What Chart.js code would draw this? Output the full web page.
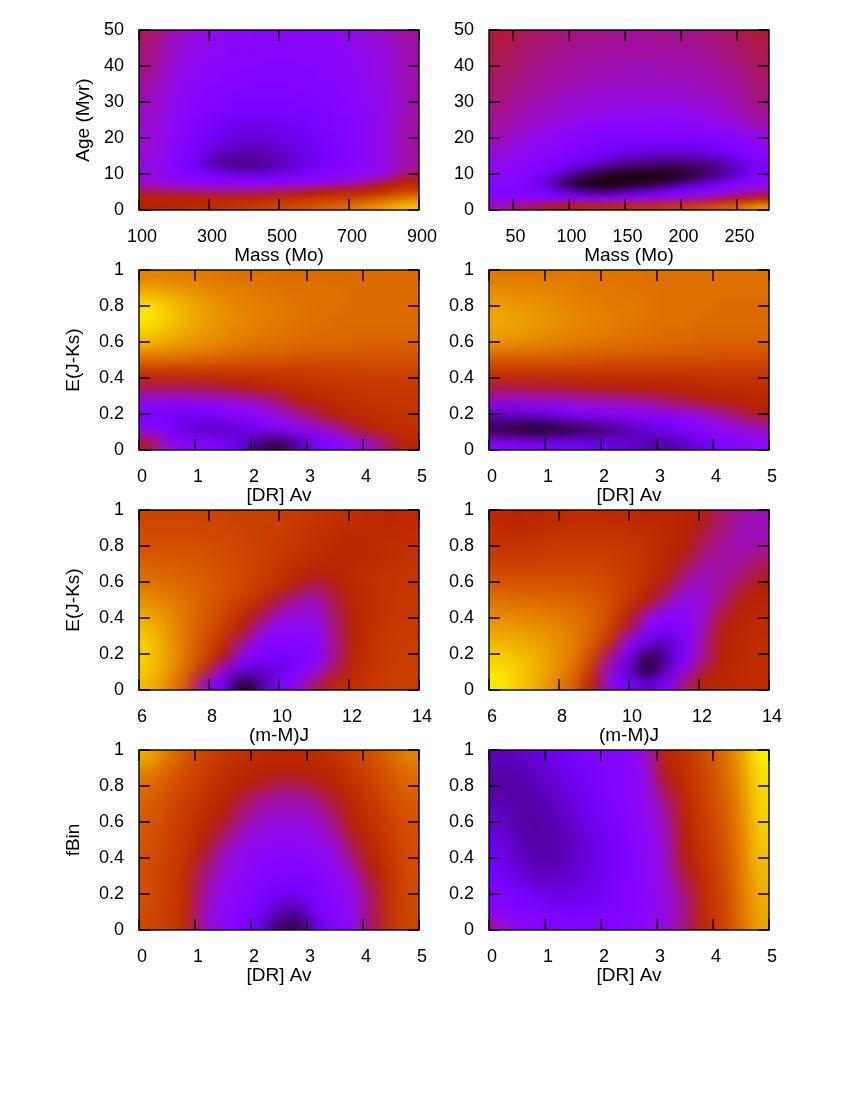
<!DOCTYPE html>
<html>
<head>
<meta charset="utf-8">
<title>Fit maps</title>
<script src="https://cdn.jsdelivr.net/npm/chart.js@4"></script>
<style>
  html, body { margin: 0; background: #fff; }
  #page { position: relative; width: 850px; height: 1100px; overflow: hidden; }
  canvas { position: absolute; }
</style>
</head>
<body>
<div id="page"></div>
<script>
// Map values in percent of the colour range, first row is the top of the plot
const massAgeLeft = [
  [44,38,34,31,29,28,28,28,29,31,33,36,39],
  [43,37,33,31,29,28,27,28,29,30,33,35,39],
  [42,36,32,30,28,27,27,27,28,30,32,35,38],
  [42,36,32,30,28,27,27,27,28,29,32,34,38],
  [41,35,31,29,28,27,26,27,27,29,31,34,38],
  [41,34,30,28,27,26,26,26,27,29,31,34,38],
  [40,34,30,28,26,26,25,26,27,28,31,34,38],
  [39,33,29,27,26,25,25,25,26,28,30,33,38],
  [38,33,29,26,25,24,24,25,26,28,30,33,38],
  [37,32,28,26,24,24,24,24,25,27,30,33,38],
  [37,32,28,25,23,23,23,24,25,27,30,33,38],
  [36,31,27,24,22,22,22,23,24,27,29,33,38],
  [36,31,26,22,20,20,21,22,24,26,29,33,39],
  [35,30,25,21,18,18,19,21,24,26,29,33,39],
  [35,30,25,20,17,17,18,20,23,26,29,33,39],
  [35,29,24,19,16,15,16,19,22,26,29,33,39],
  [35,29,23,17,13,13,15,18,22,25,29,33,39],
  [34,28,22,14,11,11,13,17,21,25,29,33,39],
  [33,28,20,12,9,10,13,17,21,25,29,33,39],
  [32,28,23,17,13,13,15,19,24,27,30,34,41],
  [33,29,27,24,22,22,23,25,27,29,32,38,47],
  [36,34,32,31,31,31,32,33,36,39,44,50,55],
  [46,44,43,42,42,43,45,47,50,53,55,59,66],
  [52,52,52,53,54,55,57,59,61,64,68,74,80],
  [50,52,54,56,59,61,64,67,71,75,80,86,91],
];
const massAgeRight = [
  [47,45,43,42,41,41,40,40,41,41,42,44,47],
  [46,44,43,42,41,40,40,40,40,41,42,44,46],
  [46,44,42,41,40,40,39,39,40,40,41,43,45],
  [45,43,42,40,39,39,39,39,39,39,41,43,45],
  [45,43,41,40,39,38,38,38,38,39,40,42,44],
  [44,42,40,39,38,38,37,37,38,38,39,41,44],
  [44,42,40,39,38,37,37,37,37,37,39,41,43],
  [43,41,39,38,37,36,36,36,36,37,38,40,43],
  [43,41,39,37,36,35,35,35,35,36,37,39,42],
  [42,40,38,36,35,34,34,34,34,35,36,39,42],
  [42,39,37,35,34,33,33,33,33,34,35,38,41],
  [41,38,36,34,33,32,31,31,31,32,34,37,40],
  [40,37,35,33,31,30,30,29,29,30,32,35,39],
  [39,36,34,31,29,28,27,27,27,28,30,33,37],
  [38,35,31,29,27,26,25,25,25,26,27,29,33],
  [37,33,30,28,26,24,24,23,23,23,24,27,31],
  [35,31,29,27,24,22,20,19,19,19,20,24,29],
  [33,30,28,25,22,18,15,14,13,14,16,21,27],
  [32,29,26,22,17,12,9,8,7,8,10,16,25],
  [30,28,24,17,10,6,4,3,3,5,8,14,24],
  [29,27,20,10,4,1,1,1,2,5,10,18,27],
  [28,26,18,7,2,1,2,4,9,15,21,27,30],
  [26,26,24,16,10,9,13,18,22,26,29,33,39],
  [29,29,29,29,29,29,31,33,36,39,43,48,54],
  [38,43,47,50,52,54,56,58,61,64,68,74,84],
];
const avReddenLeft = [
  [80,80,79,78,77,76,76,75,75,75,75,75,75,75,75],
  [87,86,84,82,80,79,78,77,76,76,76,75,75,75,75],
  [95,92,88,85,82,80,79,78,77,76,76,75,75,75,75],
  [97,93,89,86,83,81,79,78,77,76,75,75,75,75,75],
  [93,90,87,84,82,80,78,77,76,75,75,74,74,74,74],
  [87,85,83,81,79,77,76,75,74,73,73,73,72,72,72],
  [74,74,73,72,71,70,69,69,68,68,68,68,68,68,68],
  [58,58,58,58,58,59,59,60,60,61,62,62,63,63,63],
  [45,45,45,46,47,49,52,54,56,57,58,59,60,60,60],
  [31,30,30,31,32,34,37,43,49,53,55,57,58,59,59],
  [24,22,21,23,26,28,30,33,39,45,50,54,56,57,58],
  [28,24,17,14,13,17,22,27,30,33,38,46,52,55,57],
  [46,34,29,27,24,16,7,5,12,22,28,31,36,46,53],
];
const avReddenRight = [
  [78,78,78,78,78,77,77,77,76,76,76,76,76,76,76],
  [82,81,81,80,79,78,78,77,77,76,76,76,76,76,76],
  [85,84,83,82,80,79,78,78,77,76,76,76,75,75,75],
  [87,86,84,83,81,80,79,78,77,76,76,75,75,75,75],
  [86,85,83,82,80,79,78,77,76,75,75,74,74,74,74],
  [81,80,79,78,77,76,75,75,74,73,73,72,72,72,72],
  [70,70,70,70,69,69,68,68,68,67,67,67,66,66,66],
  [58,58,58,58,58,58,58,58,58,58,59,59,60,60,60],
  [46,46,47,47,48,49,50,50,51,52,53,54,55,55,56],
  [33,33,34,34,35,36,37,38,40,43,46,48,50,52,53],
  [14,15,17,20,24,25,26,27,28,29,30,33,38,44,48],
  [4,2,1,2,4,6,8,12,16,20,25,28,31,33,36],
  [28,26,25,23,21,19,17,15,12,11,14,20,25,28,30],
];
const modulusReddenLeft = [
  [64,64,64,64,64,63,63,62,61,59,57,56,55,54,55],
  [66,66,66,65,65,64,63,62,60,58,56,55,55,55,56],
  [68,68,68,67,66,65,63,61,59,57,55,54,55,56,57],
  [71,71,70,69,67,65,63,60,57,55,54,54,55,56,58],
  [74,73,72,71,68,66,62,58,54,52,53,55,57,58,59],
  [78,76,74,72,69,65,61,56,49,44,49,54,57,58,59],
  [82,79,76,72,67,62,56,46,39,38,46,53,57,59,60],
  [86,82,77,71,65,57,47,37,35,34,44,52,57,59,60],
  [90,84,77,70,62,51,38,30,30,30,42,52,57,60,61],
  [92,85,77,68,57,42,29,27,27,28,41,52,58,61,62],
  [93,86,77,65,50,31,25,22,24,27,41,53,58,61,62],
  [92,85,75,58,34,19,15,18,25,31,44,54,59,62,62],
  [90,82,69,36,22,3,10,23,31,44,54,57,60,62,62],
];
const modulusReddenRight = [
  [54,53,54,55,56,56,55,55,54,54,52,49,43,39,37],
  [56,55,56,57,58,58,58,57,56,54,51,47,42,38,37],
  [58,58,59,60,60,60,60,59,57,54,50,44,40,37,38],
  [62,62,62,63,63,63,62,60,57,53,48,41,39,39,43],
  [66,66,66,66,66,66,64,61,57,52,43,38,39,42,46],
  [71,70,70,70,70,68,66,61,55,47,38,36,40,45,50],
  [76,75,75,74,73,71,67,60,50,40,32,35,42,49,52],
  [81,80,79,78,76,73,66,53,38,29,29,35,46,52,54],
  [85,84,83,81,78,73,63,46,29,25,27,37,49,53,55],
  [89,88,86,83,79,72,56,31,20,13,25,40,51,54,56],
  [93,91,88,84,78,66,42,24,5,11,26,40,51,54,56],
  [96,93,89,84,75,60,33,14,2,14,29,46,52,55,56],
  [97,93,88,81,72,52,31,22,15,25,42,52,54,55,56],
];
const avBinaryLeft = [
  [87,78,70,64,60,57,55,54,54,55,58,63,68,74,80],
  [80,73,67,62,57,54,52,51,51,52,55,60,66,71,76],
  [76,70,65,60,55,51,48,45,45,48,52,57,63,69,74],
  [73,68,63,58,53,47,41,39,39,42,48,55,61,67,71],
  [71,66,61,56,50,43,38,36,36,38,45,53,59,65,70],
  [70,65,60,54,47,39,34,33,33,35,41,51,57,63,68],
  [69,64,59,51,42,35,31,30,30,32,37,47,55,62,68],
  [68,63,58,47,37,32,29,28,28,30,33,44,53,60,67],
  [67,63,57,44,34,31,27,26,26,28,31,39,50,59,67],
  [67,62,56,41,32,29,26,24,23,26,30,35,47,58,66],
  [67,62,56,39,31,28,24,20,19,24,29,33,44,58,66],
  [66,62,55,37,30,27,22,14,12,21,28,32,44,58,66],
  [66,62,55,36,29,26,18,7,6,18,27,32,44,58,66],
];
const avBinaryRight = [
  [13,14,16,19,22,24,26,28,36,53,58,66,74,85,98],
  [12,12,14,17,20,23,26,28,34,50,57,65,73,84,96],
  [11,11,13,15,19,22,25,28,33,47,56,64,72,83,95],
  [12,11,12,14,17,21,25,28,32,43,54,63,71,82,94],
  [14,12,11,13,16,20,24,27,31,40,53,62,70,81,94],
  [15,12,11,12,15,19,23,27,31,38,51,61,69,80,93],
  [17,13,11,12,14,17,21,26,30,36,50,60,68,79,92],
  [19,14,12,12,14,17,21,26,30,35,50,59,67,79,91],
  [21,16,13,13,15,17,21,26,30,35,48,57,66,78,90],
  [23,19,15,15,16,18,22,26,30,34,45,56,65,78,89],
  [25,23,20,18,18,20,23,26,29,34,42,56,64,77,88],
  [27,25,24,22,21,22,24,26,29,33,41,55,63,77,87],
  [37,29,27,26,25,25,26,27,30,34,42,54,63,76,86],
];

// Axis ticks
const massTicksLeft = [100, 300, 500, 700, 900];
const massTicksRight = [50, 100, 150, 200, 250];
const ageTicks = [0, 10, 20, 30, 40, 50];
const avTicks = [0, 1, 2, 3, 4, 5];
const modulusTicks = [6, 8, 10, 12, 14];
const fractionTicks = [0, 0.2, 0.4, 0.6, 0.8, 1];

// Panel list
const panels = [
  { z: massAgeLeft, col: 0, row: 0, xRange: [100, 900], yRange: [0, 50], xTicks: massTicksLeft, yTicks: ageTicks, xTitle: "Mass (Mo)", yTitle: "Age (Myr)", yTitleX: 83 },
  { z: massAgeRight, col: 1, row: 0, xRange: [29, 279], yRange: [0, 50], xTicks: massTicksRight, yTicks: ageTicks, xTitle: "Mass (Mo)" },
  { z: avReddenLeft, col: 0, row: 1, xRange: [0, 5], yRange: [0, 1], xTicks: avTicks, yTicks: fractionTicks, xTitle: "[DR] Av", yTitle: "E(J-Ks)", yTitleX: 73 },
  { z: avReddenRight, col: 1, row: 1, xRange: [0, 5], yRange: [0, 1], xTicks: avTicks, yTicks: fractionTicks, xTitle: "[DR] Av" },
  { z: modulusReddenLeft, col: 0, row: 2, xRange: [6, 14], yRange: [0, 1], xTicks: modulusTicks, yTicks: fractionTicks, xTitle: "(m-M)J", yTitle: "E(J-Ks)", yTitleX: 73 },
  { z: modulusReddenRight, col: 1, row: 2, xRange: [6, 14], yRange: [0, 1], xTicks: modulusTicks, yTicks: fractionTicks, xTitle: "(m-M)J" },
  { z: avBinaryLeft, col: 0, row: 3, xRange: [0, 5], yRange: [0, 1], xTicks: avTicks, yTicks: fractionTicks, xTitle: "[DR] Av", yTitle: "fBin", yTitleX: 73 },
  { z: avBinaryRight, col: 1, row: 3, xRange: [0, 5], yRange: [0, 1], xTicks: avTicks, yTicks: fractionTicks, xTitle: "[DR] Av" },
];

Chart.defaults.font.family = '"Liberation Sans", Arial, sans-serif';
Chart.defaults.font.size = 18;
Chart.defaults.color = "#000";

// gnuplot default palette (rgbformulae 7,5,15)
function paletteColor(pct) {
  const t = pct / 100;
  const r = Math.sqrt(t);
  const g = t * t * t;
  const b = Math.max(0, Math.sin(2 * Math.PI * t));
  return `rgb(${Math.round(r * 255)},${Math.round(g * 255)},${Math.round(b * 255)})`;
}

// Smooth the cells the way pm3d does: read them back one pixel per cell, scale up, soften
const smoothCells = {
  id: "smoothCells",
  afterDatasetsDraw(chart, args, opts) {
    const a = chart.chartArea;
    const small = document.createElement("canvas");
    small.width = opts.cols;
    small.height = opts.rows;
    const sctx = small.getContext("2d");
    sctx.imageSmoothingEnabled = false;
    sctx.drawImage(chart.canvas, a.left, a.top, a.width, a.height, 0, 0, opts.cols, opts.rows);

    const big = document.createElement("canvas");
    big.width = Math.round(a.width);
    big.height = Math.round(a.height);
    const bctx = big.getContext("2d");
    bctx.imageSmoothingEnabled = true;
    bctx.imageSmoothingQuality = "high";
    bctx.drawImage(small, 0, 0, big.width, big.height);

    const ctx = chart.ctx;
    ctx.save();
    ctx.drawImage(big, a.left, a.top);
    ctx.beginPath();
    ctx.rect(a.left, a.top, a.width, a.height);
    ctx.clip();
    ctx.filter = `blur(${opts.blur}px)`;
    ctx.drawImage(big, a.left, a.top);
    ctx.restore();
  },
};

// Frame and inward ticks on all four sides
const frameTicks = {
  id: "frameTicks",
  afterDatasetsDraw(chart) {
    const { ctx, chartArea: a, scales } = chart;
    const len = 11;
    ctx.save();
    ctx.strokeStyle = "#000";
    ctx.lineWidth = 1.4;
    ctx.beginPath();
    scales.x.ticks.forEach((t) => {
      const px = Math.round(scales.x.getPixelForValue(t.value));
      ctx.moveTo(px, a.top);
      ctx.lineTo(px, a.top + len);
      ctx.moveTo(px, a.bottom);
      ctx.lineTo(px, a.bottom - len);
    });
    scales.y.ticks.forEach((t) => {
      const py = Math.round(scales.y.getPixelForValue(t.value));
      ctx.moveTo(a.left, py);
      ctx.lineTo(a.left + len, py);
      ctx.moveTo(a.right, py);
      ctx.lineTo(a.right - len, py);
    });
    ctx.stroke();
    ctx.strokeRect(a.left, a.top, a.width, a.height);
    ctx.restore();
  },
};

function buildCells(p) {
  const rows = p.z.length;
  const cols = p.z[0].length;
  const dx = (p.xRange[1] - p.xRange[0]) / cols;
  const dy = (p.yRange[1] - p.yRange[0]) / rows;
  const cells = [];
  const colors = [];
  p.z.forEach((line, r) => {
    line.forEach((v, c) => {
      cells.push({
        x: p.xRange[0] + (c + 0.5) * dx,
        y: [p.yRange[1] - (r + 1) * dy, p.yRange[1] - r * dy],
      });
      colors.push(paletteColor(v));
    });
  });
  return { cells, colors, rows, cols };
}

const page = document.getElementById("page");
panels.forEach((p) => {
  const left = p.col === 0 ? 0 : 425;
  const axisWidth = p.col === 0 ? 139 : 64;
  const top = 30 + p.row * 240 - 12;
  const canvas = document.createElement("canvas");
  canvas.width = axisWidth + 280 + 25;
  canvas.height = 12 + 180 + 58;
  canvas.style.left = left + "px";
  canvas.style.top = top + "px";
  page.appendChild(canvas);

  const { cells, colors, rows, cols } = buildCells(p);
  new Chart(canvas, {
    type: "bar",
    data: {
      datasets: [{
        data: cells,
        backgroundColor: colors,
        borderWidth: 0,
        barPercentage: 1,
        categoryPercentage: 1,
        inflateAmount: 1,
      }],
    },
    plugins: [smoothCells, frameTicks],
    options: {
      responsive: false,
      animation: false,
      events: [],
      layout: { autoPadding: false, padding: { top: 12, right: 25, left: 0, bottom: 0 } },
      plugins: {
        legend: { display: false },
        tooltip: { enabled: false },
        smoothCells: { rows, cols, blur: rows > 13 ? 2 : 4 },
      },
      scales: {
        x: {
          type: "linear",
          offset: false,
          min: p.xRange[0],
          max: p.xRange[1],
          grid: { display: false, drawTicks: false, offset: false },
          border: { display: false },
          ticks: { padding: 16, labelOffset: 3, maxRotation: 0, autoSkip: false, callback: (v) => String(v) },
          title: { display: true, text: p.xTitle, font: { size: 19 }, padding: { top: 0, bottom: 1 } },
          afterBuildTicks: (s) => { s.ticks = p.xTicks.map((v) => ({ value: v })); },
          afterFit: (s) => { s.height = 58; s.paddingLeft = 0; s.paddingRight = 0; },
        },
        y: {
          type: "linear",
          min: p.yRange[0],
          max: p.yRange[1],
          grid: { display: false, drawTicks: false },
          border: { display: false },
          ticks: { padding: 15, autoSkip: false, callback: (v) => String(v) },
          title: p.yTitle
            ? { display: true, text: p.yTitle, font: { size: 19 }, padding: { top: p.yTitleX - 11, bottom: 0 } }
            : { display: false },
          afterBuildTicks: (s) => { s.ticks = p.yTicks.map((v) => ({ value: v })); },
          afterFit: (s) => { s.width = axisWidth; s.paddingTop = 0; s.paddingBottom = 0; },
        },
      },
    },
  });
});
</script>
</body>
</html>
